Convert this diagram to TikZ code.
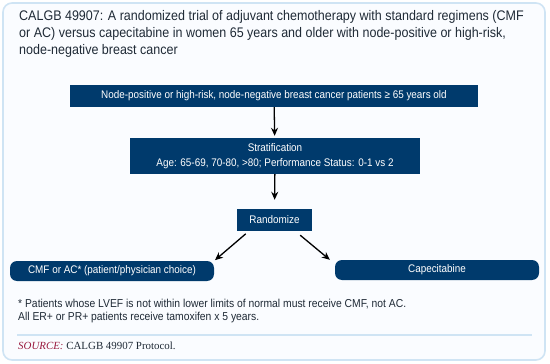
\documentclass[tikz,border=0pt]{standalone}
\usepackage{fontspec}
\setmainfont[FakeStretch=0.9]{Liberation Sans}
\newfontfamily\srcfont{Liberation Serif}
\usetikzlibrary{arrows.meta}
\definecolor{navy}{HTML}{003A6C}
\definecolor{frameblue}{HTML}{CFE4F4}
\definecolor{panelfill}{HTML}{FAFCFF}
\definecolor{srcred}{HTML}{9A1B3F}
\definecolor{inkgray}{HTML}{1F2A36}

\begin{document}
\begin{tikzpicture}[x=1pt, y=-1pt]
    % Node styles
    \tikzstyle{step box}=[fill=navy, text=white, inner sep=0pt, align=center, font=\fontsize{11}{15}\selectfont]
    \tikzstyle{arm box}=[step box, rounded corners=7pt, minimum width=204pt, minimum height=20pt]
    \tikzstyle{flow arrow}=[-{Stealth[length=8pt,width=7pt]}, line width=1.3pt]

    \useasboundingbox (0,0) rectangle (550,364);

    % --- Frame ---
    \draw[frameblue, fill=panelfill, line width=1.6pt, rounded corners=9pt] (3,3) rectangle (545,360);

    % --- Title ---
    \node[anchor=west, align=left, inner sep=0pt, text=inkgray, font=\fontsize{13.9}{16.8}\selectfont] (title) at (19,34)
        {CALGB 49907: A randomized trial of adjuvant chemotherapy with standard regimens (CMF\\
         or AC) versus capecitabine in women 65 years and older with node-positive or high-risk,\\
         node-negative breast cancer};

    % --- Flow boxes ---
    \node[step box, minimum width=408pt, minimum height=22pt] (patients) at (274,96)
        {Node-positive or high-risk, node-negative breast cancer patients ≥ 65 years old};
    \node[step box, minimum width=290pt, minimum height=36pt] (strat) at (275,156)
        {Stratification\\Age: 65-69, 70-80, >80; Performance Status: 0-1 vs 2};
    \node[step box, minimum width=75pt, minimum height=22pt] (random) at (274.5,220)
        {Randomize};

    % --- Arms ---
    \node[arm box] (cmf) at (112,271) {CMF or AC* (patient/physician choice)};
    \node[arm box] (cape) at (437,270) {Capecitabine};

    % Arrows
    \draw[flow arrow, shorten >=2pt] (patients) -- (strat);
    \draw[flow arrow, shorten >=9pt] (strat) -- (random);
    \draw[flow arrow, shorten <=4pt, shorten >=1pt] (random.south west) ++(12,0) coordinate (rl) (rl) -- (cmf.north east);
    \draw[flow arrow] (random.south east) ++(-12,4) coordinate (rr) (rr) -- ([xshift=-5pt]cape.north west);

    % --- Footnote ---
    \node[anchor=west, align=left, inner sep=0pt, text=inkgray, font=\fontsize{11.5}{12.5}\selectfont] (note) at (18,311)
        {* Patients whose LVEF is not within lower limits of normal must receive CMF, not AC.\\
         All ER+ or PR+ patients receive tamoxifen x 5 years.};

    % Separator
    \coordinate (sep_l) at (17,335);
    \coordinate (sep_r) at (532,335);
    \draw[frameblue, line width=1.2pt] (sep_l) -- (sep_r);

    % --- Source ---
    \node[anchor=west, inner sep=0pt, text=inkgray, font=\srcfont\fontsize{10.9}{12}\selectfont] (source) at (18,346)
        {\textcolor{srcred}{\itshape SOURCE:} CALGB 49907 Protocol.};
\end{tikzpicture}
\end{document}
